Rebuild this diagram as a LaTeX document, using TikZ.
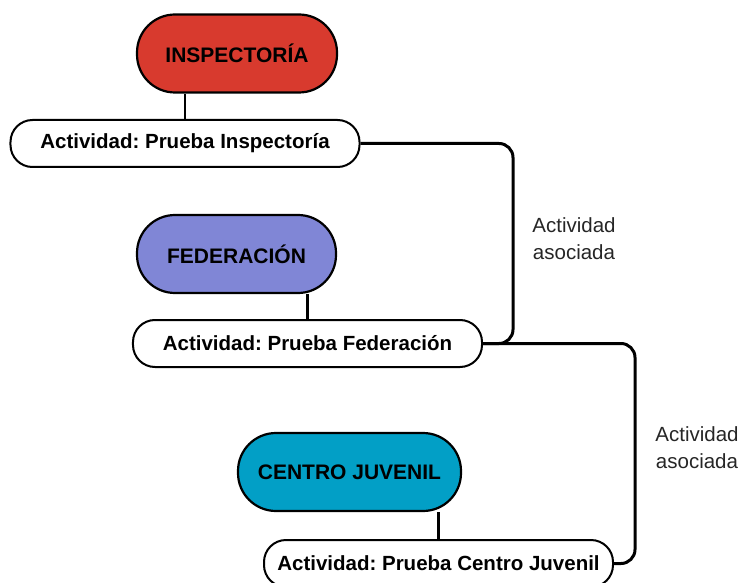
\documentclass[tikz,border=0pt]{standalone}
\usepackage{fontspec}
\setmainfont{Liberation Sans}
\frenchspacing
\definecolor{cred}{RGB}{216,58,46}
\definecolor{cpurple}{RGB}{128,134,214}
\definecolor{cblue}{RGB}{2,159,198}
\begin{document}
\begin{tikzpicture}[x=1bp,y=-1bp,
  org/.style={draw=black, line width=2.2bp, rounded corners=38bp, minimum height=78bp, inner sep=0pt,
    font=\fontsize{21bp}{24bp}\selectfont\bfseries},
  act/.style={draw=black, fill=white, line width=2bp, rounded corners=22bp, minimum width=349bp, minimum height=47bp, inner sep=0pt,
    font=\fontsize{20.5bp}{24bp}\selectfont\bfseries},
  link/.style={line width=2.6bp, draw=black},
  conn/.style={line width=3bp, draw=black, rounded corners=14bp},
  lbl/.style={align=center, text=black!85, inner sep=0pt, font=\fontsize{20.5bp}{27bp}\selectfont}]
\useasboundingbox (0,0) rectangle (748,583);
\node[org, fill=cred, minimum width=200bp] (ins) at (237,53.5) {INSPECTORÍA};
\node[act] (a1) at (185,143.5) {Actividad: Prueba Inspectoría};
\node[org, fill=cpurple, minimum width=199bp] (fed) at (236.5,254) {FEDERACIÓN};
\node[act] (a2) at (307.5,343.5) {Actividad: Prueba Federación};
\node[org, fill=cblue, minimum width=223bp] (cj) at (349.5,472) {CENTRO JUVENIL};
\node[act] (a3) at (438.5,563.5) {Actividad: Prueba Centro Juvenil};
\coordinate (c1) at (513,0);
\coordinate (c2) at (635,0);
\draw[link] (a1.north) -- (a1.north |- ins.south);
\draw[link] (a2.north) -- (a2.north |- fed.south);
\draw[link] (a3.north) -- (a3.north |- cj.south);
\draw[conn] (a1.east) -| (c1 |- a2.east) -- (a2.east);
\draw[conn] (a2.east) -| (c2 |- a3.east) -- (a3.east);
\node[lbl] (l1) at (574,239) {Actividad\\asociada};
\node[lbl] (l2) at (697,448) {Actividad\\asociada};
\end{tikzpicture}
\end{document}
